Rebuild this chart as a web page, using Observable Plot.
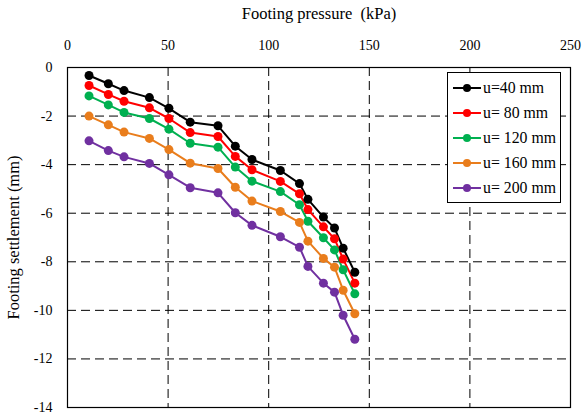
<!DOCTYPE html>
<html>
<head>
<meta charset="utf-8">
<script src="https://cdn.jsdelivr.net/npm/d3@7"></script>
<script src="https://cdn.jsdelivr.net/npm/@observablehq/plot@0.6"></script>
<style>
  body { margin: 0; background: #fff; }
  #wrap { position: relative; width: 582px; height: 416px; font-family: "Liberation Serif", serif; }
  #wrap svg text { font-family: "Liberation Serif", serif; font-variant: normal; }
  #legend { position: absolute; left: 447px; top: 72px; width: 112px; border: 1px solid #000; background: #fff; padding: 2px 0 2px 0; }
  .row { display: flex; align-items: center; height: 25px; font-size: 15.8px; }
  .row svg { margin-left: 5px; margin-right: 2px; }
</style>
</head>
<body>
<div id="wrap"></div>
<script>
const pressure = [10.7, 20.3, 28.1, 40.7, 50.4, 61, 74.8, 83.4, 91.7, 105.8, 115.3, 119.5, 127.2, 132.7, 137, 142.8];
const seriesNames = ["u=40 mm", "u= 80 mm", "u= 120 mm", "u= 160 mm", "u= 200 mm"];
const seriesColors = ["#000000", "#ff0000", "#00b050", "#e97d1c", "#7030a0"];
const u40  = [-0.33, -0.67, -0.95, -1.24, -1.68, -2.25, -2.40, -3.24, -3.79, -4.24, -4.78, -5.43, -6.16, -6.61, -7.44, -8.43];
const u80  = [-0.74, -1.11, -1.39, -1.66, -2.10, -2.68, -2.84, -3.66, -4.21, -4.69, -5.20, -5.85, -6.56, -7.05, -7.89, -8.88];
const u120 = [-1.17, -1.54, -1.85, -2.10, -2.54, -3.12, -3.28, -4.10, -4.68, -5.11, -5.65, -6.33, -7.01, -7.51, -8.33, -9.32];
const u160 = [-2.00, -2.36, -2.66, -2.92, -3.38, -3.94, -4.16, -4.93, -5.50, -5.93, -6.38, -7.15, -7.86, -8.22, -9.17, -10.14];
const u200 = [-3.02, -3.42, -3.68, -3.95, -4.42, -4.95, -5.16, -5.98, -6.50, -6.97, -7.40, -8.19, -8.88, -9.25, -10.20, -11.19];
const xTicks = [0, 50, 100, 150, 200, 250];
const yTicks = [0, -2, -4, -6, -8, -10, -12, -14];
const xGrid = [50, 100, 150, 200];
const yGrid = [-2, -4, -6, -8, -10, -12];

const allSeries = [u40, u80, u120, u160, u200];
const data = [];
allSeries.forEach((vals, i) => {
  vals.forEach((v, j) => data.push({series: seriesNames[i], p: pressure[j], s: v}));
});

const serif = "'Liberation Serif', serif";
const chart = Plot.plot({
  width: 582,
  height: 416,
  marginTop: 67,
  marginLeft: 67,
  marginRight: 12,
  marginBottom: 9,
  style: {fontFamily: serif, fontSize: "14px", color: "#000", background: "#fff"},
  x: {domain: [0, 250]},
  y: {domain: [-14, 0]},
  color: {domain: seriesNames, range: seriesColors},
  marks: [
    Plot.gridX(xGrid, {stroke: "#000", strokeOpacity: 1, strokeWidth: 1, strokeDasharray: "9,5"}),
    Plot.gridY(yGrid, {stroke: "#000", strokeOpacity: 1, strokeWidth: 1, strokeDasharray: "9,5"}),
    Plot.frame({stroke: "#000", strokeWidth: 1.2}),
    Plot.axisX(xTicks, {anchor: "top", tickSize: 0, tickPadding: 18, fontSize: 14, fontFamily: serif, tickFormat: d => String(d), label: null}),
    Plot.axisX({anchor: "top", ticks: [], tickSize: 0, fontSize: 16.5, fontFamily: serif, label: "Footing pressure  (kPa)", labelAnchor: "center", labelOffset: 60, labelArrow: "none"}),
    Plot.axisY(yTicks, {anchor: "left", tickSize: 0, tickPadding: 15, fontSize: 14, fontFamily: serif, tickFormat: d => String(d), label: null}),
    Plot.axisY({anchor: "left", ticks: [], tickSize: 0, fontSize: 16.5, fontFamily: serif, label: "Footing settlement (mm)", labelAnchor: "center", labelOffset: 60, labelArrow: "none"}),
    Plot.line(data, {x: "p", y: "s", z: "series", stroke: "series", strokeWidth: 2}),
    Plot.dot(data, {x: "p", y: "s", fill: "series", r: 4.5})
  ]
});

const wrap = document.getElementById("wrap");
wrap.appendChild(chart);

const legend = document.createElement("div");
legend.id = "legend";
seriesNames.forEach((name, i) => {
  const row = document.createElement("div");
  row.className = "row";
  row.innerHTML = `<svg width="28" height="10"><line x1="0" y1="5" x2="28" y2="5" stroke="${seriesColors[i]}" stroke-width="2"/><circle cx="14" cy="5" r="4" fill="${seriesColors[i]}"/></svg><span>${name}</span>`;
  legend.appendChild(row);
});
wrap.appendChild(legend);
</script>
</body>
</html>
